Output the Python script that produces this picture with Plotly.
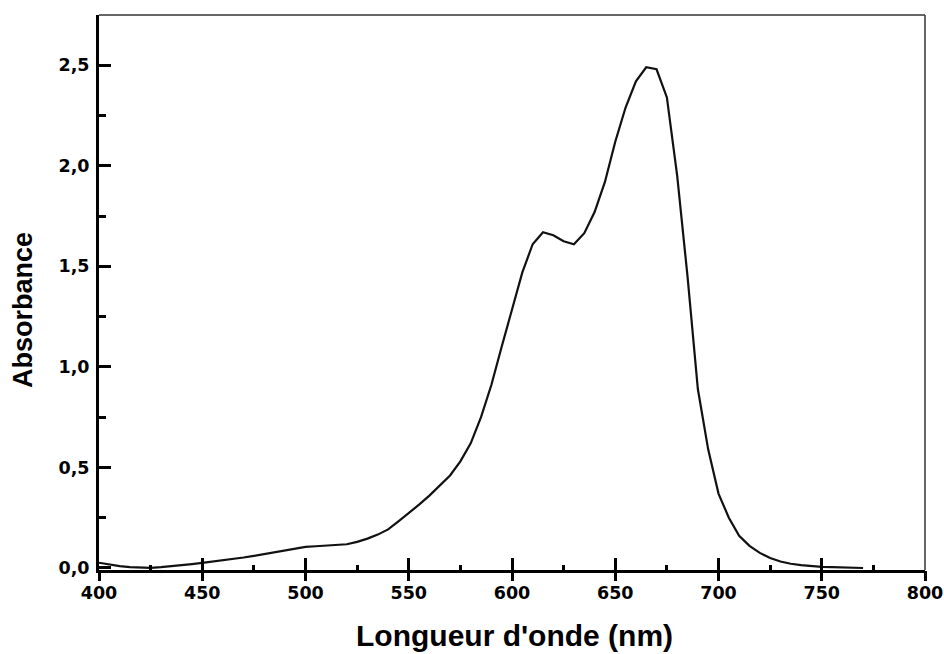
import plotly.graph_objects as go

# Wavelength (nm) and absorbance
wavelength = [400, 405, 410, 415, 420, 425, 430, 435, 440, 445, 450, 455, 460, 465, 470,
              475, 480, 485, 490, 495, 500, 505, 510, 515, 520, 525, 530, 535, 540, 545,
              550, 555, 560, 565, 570, 575, 580, 585, 590, 595, 600, 605, 610, 615, 620,
              625, 630, 635, 640, 645, 650, 655, 660, 665, 670, 675, 680, 685, 690, 695,
              700, 705, 710, 715, 720, 725, 730, 735, 740, 745, 750, 755, 760, 765, 770]
absorbance = [0.026, 0.017, 0.009, 0.004, 0.001, 0.001, 0.004, 0.008, 0.013, 0.019, 0.025,
              0.031, 0.037, 0.044, 0.052, 0.060, 0.069, 0.079, 0.090, 0.099, 0.105, 0.108,
              0.111, 0.114, 0.118, 0.130, 0.146, 0.166, 0.192, 0.232, 0.272, 0.315, 0.360,
              0.410, 0.460, 0.530, 0.620, 0.750, 0.910, 1.100, 1.290, 1.470, 1.610, 1.670,
              1.655, 1.625, 1.610, 1.665, 1.770, 1.920, 2.120, 2.290, 2.420, 2.490, 2.480,
              2.340, 1.950, 1.450, 0.890, 0.590, 0.370, 0.250, 0.160, 0.110, 0.075, 0.050,
              0.032, 0.021, 0.014, 0.009, 0.006, 0.004, 0.002, 0.001, 0.000]

x_ticks = [400, 450, 500, 550, 600, 650, 700, 750, 800]
x_ticklabels = [str(v) for v in x_ticks]
y_ticks = [0.0, 0.5, 1.0, 1.5, 2.0, 2.5]
y_ticklabels = ["0,0", "0,5", "1,0", "1,5", "2,0", "2,5"]

x_title = "Longueur d'onde (nm)"
y_title = "Absorbance"

FONT = "Liberation Sans, Arial, sans-serif"
TICKFONT = "DejaVu Sans, Verdana, sans-serif"

fig = go.Figure()
fig.add_trace(go.Scatter(x=wavelength, y=absorbance, mode="lines",
                         line=dict(color="#111111", width=2.2),
                         showlegend=False, hoverinfo="skip"))
# helper trace bound to the overlay axis (for the outward half of x ticks)
fig.add_trace(go.Scatter(x=wavelength, y=absorbance, mode="lines", xaxis="x2",
                         opacity=0, showlegend=False, hoverinfo="skip"))

fig.update_layout(
    width=944, height=654,
    margin=dict(l=99, r=19, t=15, b=84),
    paper_bgcolor="white", plot_bgcolor="white",
    font=dict(family=FONT, color="black"),
    xaxis=dict(range=[400, 800], tickmode="array", tickvals=x_ticks, ticktext=x_ticklabels,
               automargin=False,
               ticks="inside", ticklen=12, tickwidth=3, tickcolor="black",
               showline=True, linewidth=3, linecolor="black", showgrid=False, zeroline=False,
               tickfont=dict(family=TICKFONT, size=17.5, color="black", weight="bold"),
               minor=dict(ticks="inside", ticklen=5, tickwidth=2.5, tickcolor="black",
                          tickvals=[425, 475, 525, 575, 625, 675, 725, 775], showgrid=False),
               ticklabelstandoff=5),
    xaxis2=dict(range=[400, 800], overlaying="x", anchor="y", side="bottom",
                automargin=False,
                tickmode="array", tickvals=x_ticks, showticklabels=False,
                ticks="outside", ticklen=10, tickwidth=3, tickcolor="black",
                showline=False, showgrid=False, zeroline=False),
    yaxis=dict(range=[-0.01, 2.75], tickmode="array", tickvals=y_ticks, ticktext=y_ticklabels,
               automargin=False,
               ticks="inside", ticklen=12, tickwidth=3, tickcolor="black",
               showline=True, linewidth=3, linecolor="black", showgrid=False, zeroline=False,
               tickfont=dict(family=TICKFONT, size=17.5, color="black", weight="bold"),
               minor=dict(ticks="inside", ticklen=7, tickwidth=2.5, tickcolor="black",
                          tickvals=[0.25, 0.75, 1.25, 1.75, 2.25, 2.75], showgrid=False),
               ticklabelstandoff=3),
    shapes=[
        dict(type="line", xref="paper", yref="paper", x0=0, x1=1, y0=1, y1=1,
             line=dict(color="#333333", width=1.5)),
        dict(type="line", xref="paper", yref="paper", x0=1, x1=1, y0=0, y1=1,
             line=dict(color="#333333", width=1.5)),
    ],
    annotations=[
        dict(text=x_title, xref="paper", yref="paper", x=(514 - 99) / 826, y=(570 - 635) / 555,
             xanchor="center", yanchor="middle", showarrow=False,
             font=dict(family=FONT, size=30, color="black", weight="bold")),
        dict(text=y_title, xref="paper", yref="paper", x=(23 - 99) / 826, y=(570 - 310) / 555,
             xanchor="center", yanchor="middle", textangle=-90, showarrow=False,
             font=dict(family=FONT, size=27, color="black", weight="bold")),
    ],
)

# remove the default 8px page margin so the 944x654 figure fills the window exactly
fig.write_html("out.html", config={"displayModeBar": False},
               post_script="document.body.style.margin='0';document.body.style.overflow='hidden';")
